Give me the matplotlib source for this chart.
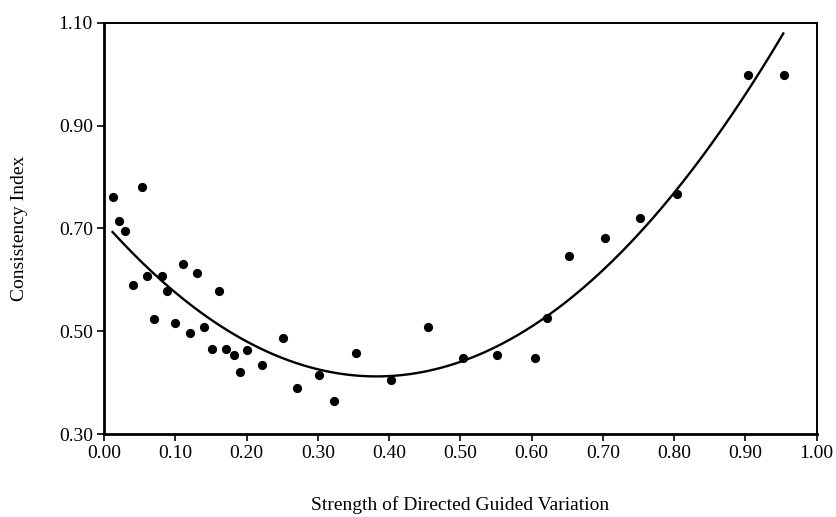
import numpy as np
import matplotlib
matplotlib.use("Agg")
import matplotlib.pyplot as plt

# Data
strength = [0.012, 0.021, 0.030, 0.040, 0.053, 0.061, 0.070, 0.081, 0.089,
            0.100, 0.111, 0.121, 0.131, 0.140, 0.152, 0.161, 0.171, 0.183,
            0.191, 0.201, 0.221, 0.251, 0.271, 0.302, 0.322, 0.353, 0.402,
            0.454, 0.503, 0.552, 0.604, 0.622, 0.653, 0.703, 0.752, 0.804,
            0.904, 0.954]
consistency = [0.762, 0.715, 0.695, 0.589, 0.780, 0.608, 0.523, 0.608, 0.578,
               0.516, 0.631, 0.497, 0.613, 0.508, 0.465, 0.578, 0.465, 0.454,
               0.420, 0.463, 0.434, 0.486, 0.390, 0.414, 0.364, 0.458, 0.406,
               0.508, 0.447, 0.453, 0.447, 0.525, 0.646, 0.681, 0.720, 0.767,
               0.999, 0.998]
x_ticks = [0.0, 0.1, 0.2, 0.3, 0.4, 0.5, 0.6, 0.7, 0.8, 0.9, 1.0]
y_ticks = [0.30, 0.50, 0.70, 0.90, 1.10]
fit_range = [0.012, 0.953]

plt.rcParams['font.family'] = ['Liberation Serif', 'DejaVu Serif']

fig = plt.figure(figsize=(8.36, 5.17), dpi=100)
ax = fig.add_axes([0.1244, 0.1605, 0.977 - 0.1244, 0.956 - 0.1605])

ax.scatter(strength, consistency, s=44, color='black', zorder=3, linewidths=0)

coef = np.polyfit(strength, consistency, 2)
xf = np.linspace(fit_range[0], fit_range[1], 200)
ax.plot(xf, np.polyval(coef, xf), color='black', lw=1.7)

ax.set_xlim(0, 1.0)
ax.set_ylim(0.30, 1.10)
ax.set_xticks(x_ticks)
ax.set_xticklabels([f"{v:.2f}" for v in x_ticks])
ax.set_yticks(y_ticks)
ax.set_yticklabels([f"{v:.2f}" for v in y_ticks])
ax.tick_params(direction='out', length=5, width=1.2, labelsize=14, pad=3)
for sp in ['left', 'bottom']:
    ax.spines[sp].set_linewidth(2.0)
for sp in ['top', 'right']:
    ax.spines[sp].set_linewidth(1.4)

ax.set_xlabel("Strength of Directed Guided Variation", fontsize=14)
ax.set_ylabel("Consistency Index", fontsize=14)
ax.xaxis.set_label_coords(0.5, -0.150)
ax.yaxis.set_label_coords(-0.107, 0.5)

fig.savefig("out.png", dpi=100)
